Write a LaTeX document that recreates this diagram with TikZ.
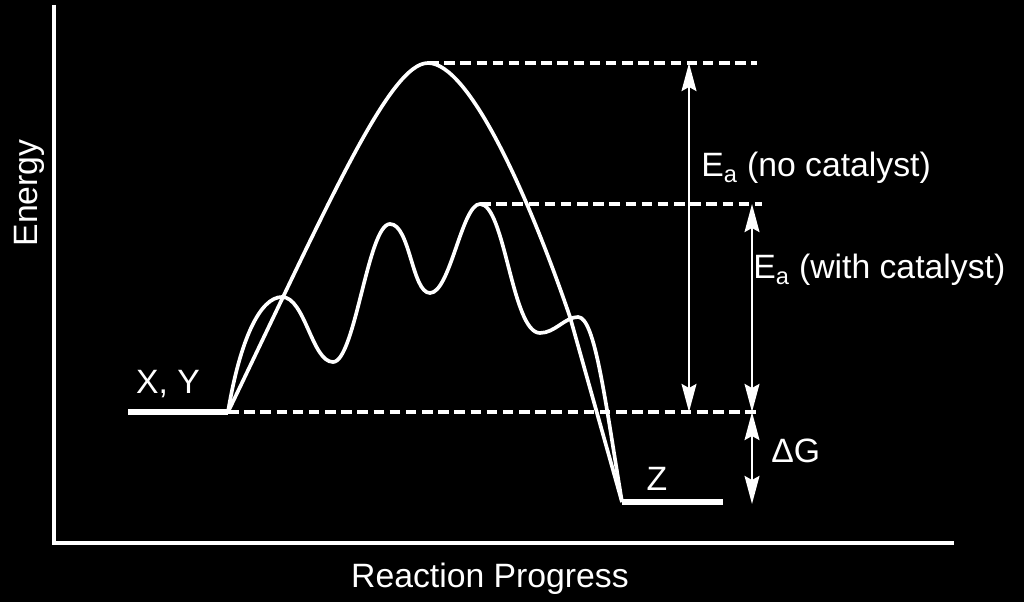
\documentclass[tikz,border=0pt]{standalone}
\usepackage{fontspec}
\setmainfont{Liberation Sans}
\usetikzlibrary{arrows.meta}

\tikzset{
  lbl/.style={text=white, font=\fontsize{24}{28}\selectfont, inner sep=0pt},
  curve/.style={white, line width=2.6pt, line join=round},
  level/.style={white, line width=4.5pt},
  guide/.style={white, line width=2.6pt, dash pattern=on 7.5pt off 4pt},
  span/.style={white, line width=1.8pt,
    {Stealth[length=0.7cm,width=0.37cm,inset=0.1cm]}-{Stealth[length=0.7cm,width=0.37cm,inset=0.1cm]}},
}

\begin{document}
\begin{tikzpicture}[x=0.025cm,y=-0.025cm]
        \fill[black] (0,0) rectangle (1024,602);
        \useasboundingbox (0,0) rectangle (1024,602);
        % axes
        \coordinate (top) at (54,5);
        \coordinate (origin) at (54,543);
        \coordinate (right) at (954,543);
        \draw[white, line width=2.3pt] (top) -- (origin) -- (right);
        \node[lbl, rotate=90, anchor=base] (energy) at (37,193) {Energy};
        \node[lbl, anchor=base] (progress) at (490,587) {Reaction Progress};
        % energy levels
        \coordinate (xyL) at (128,412);
        \coordinate (xyR) at (228,412);
        \coordinate (zL) at (622,502);
        \coordinate (zR) at (723,502);
        \coordinate (tsU) at (428,63);
        \coordinate (tsC) at (480,204);
        \draw[level] (xyL) -- (xyR);
        \draw[level] (zL) -- (zR);
        \node[lbl, anchor=base] (xy) at (168,393) {X, Y};
        \node[lbl, anchor=base] (z) at (657,490) {Z};
        % curves
        \draw[curve] (xyR) .. controls (330,200) and (390,63) .. (tsU)
            .. controls (470,63) and (530,200) .. (570,317) -- (zL);
        \draw[curve] (xyR) .. controls (240,340) and (260,297) .. (282,297)
            .. controls (305,297) and (312,362) .. (333,362)
            .. controls (355,362) and (368,224) .. (390,224)
            .. controls (410,224) and (412,293) .. (430,293)
            .. controls (450,293) and (462,204) .. (tsC)
            .. controls (505,204) and (512,333) .. (540,333)
            .. controls (555,333) and (565,317) .. (578,317)
            .. controls (595,317) and (605,400) .. (zL);
        % guides
        \coordinate (gU) at (757,63);
        \coordinate (gC) at (762,204);
        \coordinate (gB) at (760,412);
        \draw[guide] (tsU) -- (gU);
        \draw[guide] (tsC) -- (gC);
        \draw[guide] (xyR) -- (gB);
        % arrows
        \coordinate (ncTop) at (689,63);
        \coordinate (ncBot) at (689,412);
        \coordinate (wcTop) at (752,204);
        \coordinate (wcBot) at (752,412);
        \coordinate (dgBot) at (752,504);
        \draw[span] (ncBot) -- (ncTop);
        \draw[span] (wcBot) -- (wcTop);
        \draw[span] (wcBot) -- (dgBot);
        \node[lbl, anchor=base west] (eaU) at (701,177) {E\textsubscript{a} (no catalyst)};
        \node[lbl, anchor=base west] (eaC) at (753,279) {E\textsubscript{a} (with catalyst)};
        \node[lbl, anchor=base west] (dg) at (771,462) {ΔG};
    \end{tikzpicture}
\end{document}
